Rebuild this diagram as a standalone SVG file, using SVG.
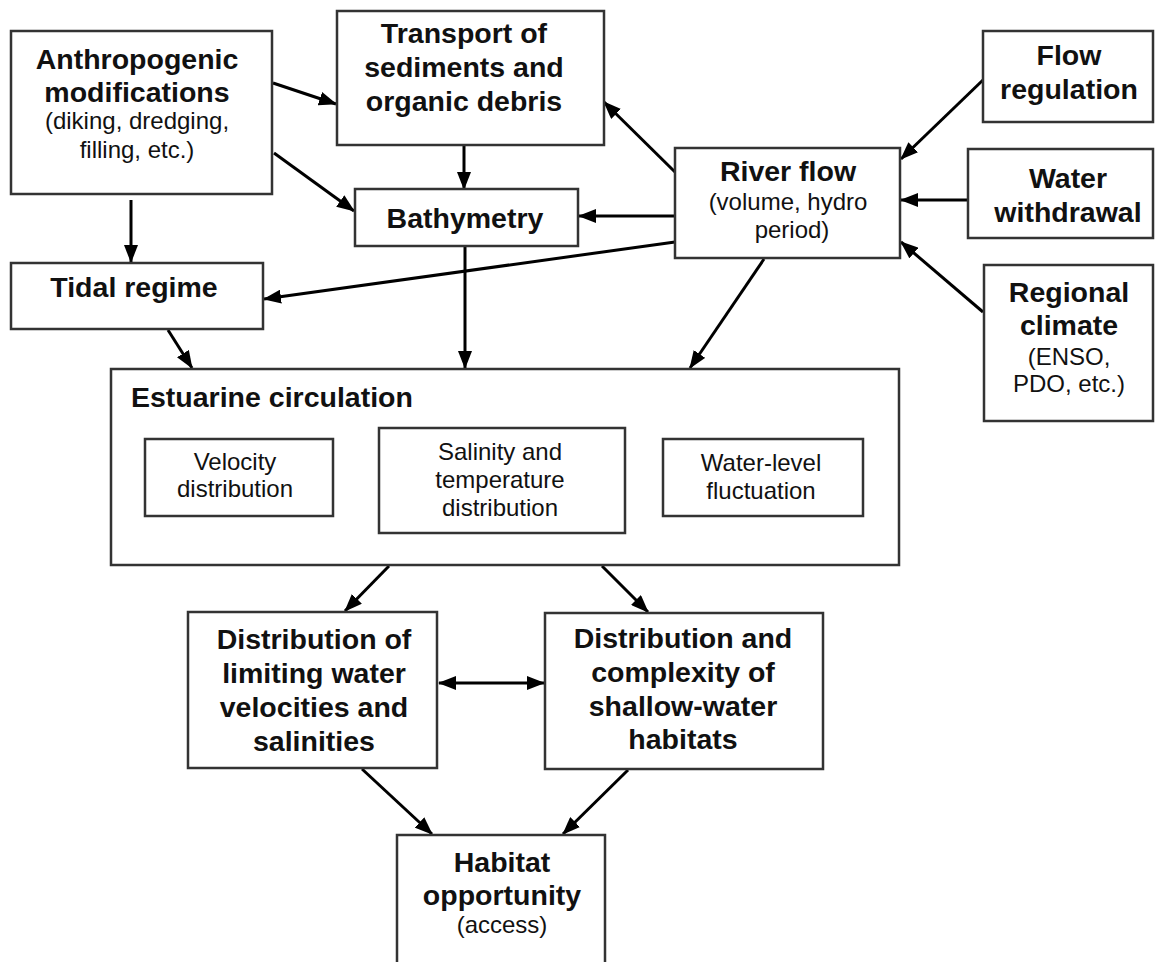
<svg xmlns="http://www.w3.org/2000/svg" width="1156" height="962" viewBox="0 0 1156 962">
<defs>
<marker id="ah" markerUnits="userSpaceOnUse" markerWidth="18" markerHeight="14" refX="17" refY="7" orient="auto-start-reverse" viewBox="0 0 18 14">
<path d="M0,0 L18,7 L0,14 z" fill="#000"/>
</marker>
<style>
rect{fill:#fff;stroke:#333;stroke-width:2.5}
text{font-family:"Liberation Sans",Arial,Helvetica,sans-serif;fill:#111;text-anchor:middle}
.b{font-weight:bold;font-size:28.5px}
.r{font-size:24px}
.c line{stroke:#000;stroke-width:3;marker-end:url(#ah)}
</style>
</defs>
<rect x="0" y="0" width="1156" height="962" style="fill:#fff;stroke:none"/>
<g class="c" id="connectors">
<line x1="273" y1="83" x2="336" y2="104"/>
<line x1="274" y1="153" x2="354" y2="211"/>
<line x1="131" y1="200" x2="131" y2="262"/>
<line x1="464" y1="145" x2="464" y2="189"/>
<line x1="675" y1="216" x2="579" y2="216"/>
<line x1="675" y1="172" x2="604" y2="102"/>
<line x1="675" y1="242" x2="264" y2="299"/>
<line x1="983" y1="80" x2="901" y2="159"/>
<line x1="968" y1="200" x2="901" y2="200"/>
<line x1="983" y1="312" x2="901" y2="242"/>
<line x1="168" y1="330" x2="192" y2="368"/>
<line x1="465" y1="246" x2="465" y2="368"/>
<line x1="764" y1="259" x2="690" y2="368"/>
<line x1="389" y1="566" x2="345" y2="611"/>
<line x1="602" y1="566" x2="648" y2="612"/>
<line x1="439" y1="683" x2="544" y2="683" style="marker-start:url(#ah)"/>
<line x1="362" y1="769" x2="432" y2="834"/>
<line x1="628" y1="770" x2="563" y2="834"/>
</g>
<g id="anthropogenic">
<rect x="11" y="31" width="261" height="163"/>
<text class="b" x="137" y="69">Anthropogenic</text>
<text class="b" x="137" y="102">modifications</text>
<text class="r" x="137" y="129">(diking, dredging,</text>
<text class="r" x="137" y="158">filling, etc.)</text>
</g>
<g id="transport">
<rect x="337" y="11" width="267" height="134"/>
<text class="b" x="464" y="43">Transport of</text>
<text class="b" x="464" y="77">sediments and</text>
<text class="b" x="464" y="111">organic debris</text>
</g>
<g id="bathymetry">
<rect x="355" y="189" width="223" height="57"/>
<text class="b" x="465" y="228">Bathymetry</text>
</g>
<g id="tidal">
<rect x="11" y="263" width="252" height="66"/>
<text class="b" x="134" y="297">Tidal regime</text>
</g>
<g id="riverflow">
<rect x="675" y="148" width="225" height="110"/>
<text class="b" x="788" y="181">River flow</text>
<text class="r" x="788" y="210">(volume, hydro</text>
<text class="r" x="792" y="238">period)</text>
</g>
<g id="flowregulation">
<rect x="983" y="31" width="170" height="91"/>
<text class="b" x="1069" y="65">Flow</text>
<text class="b" x="1069" y="99">regulation</text>
</g>
<g id="waterwithdrawal">
<rect x="968" y="149" width="185" height="89"/>
<text class="b" x="1068" y="188">Water</text>
<text class="b" x="1068" y="222">withdrawal</text>
</g>
<g id="regionalclimate">
<rect x="984" y="265" width="169" height="156"/>
<text class="b" x="1069" y="302">Regional</text>
<text class="b" x="1069" y="335">climate</text>
<text class="r" x="1069" y="365">(ENSO,</text>
<text class="r" x="1069" y="392">PDO, etc.)</text>
</g>
<g id="estuarine">
<rect x="111" y="369" width="788" height="196"/>
<text class="b" x="131" y="407" style="text-anchor:start">Estuarine circulation</text>
</g>
<g id="velocity">
<rect x="145" y="439" width="188" height="77"/>
<text class="r" x="235" y="470">Velocity</text>
<text class="r" x="235" y="497">distribution</text>
</g>
<g id="salinity">
<rect x="379" y="428" width="246" height="105"/>
<text class="r" x="500" y="460">Salinity and</text>
<text class="r" x="500" y="488">temperature</text>
<text class="r" x="500" y="516">distribution</text>
</g>
<g id="waterlevel">
<rect x="663" y="439" width="200" height="77"/>
<text class="r" x="761" y="471">Water-level</text>
<text class="r" x="761" y="499">fluctuation</text>
</g>
<g id="limiting">
<rect x="188" y="612" width="249" height="156"/>
<text class="b" x="314" y="649">Distribution of</text>
<text class="b" x="314" y="683">limiting water</text>
<text class="b" x="314" y="717">velocities and</text>
<text class="b" x="314" y="751">salinities</text>
</g>
<g id="complexity">
<rect x="545" y="613" width="278" height="156"/>
<text class="b" x="683" y="648">Distribution and</text>
<text class="b" x="683" y="682">complexity of</text>
<text class="b" x="683" y="716">shallow-water</text>
<text class="b" x="683" y="749">habitats</text>
</g>
<g id="habitat">
<rect x="397" y="835" width="208" height="140"/>
<text class="b" x="502" y="872">Habitat</text>
<text class="b" x="502" y="905">opportunity</text>
<text class="r" x="502" y="933">(access)</text>
</g>
</svg>
